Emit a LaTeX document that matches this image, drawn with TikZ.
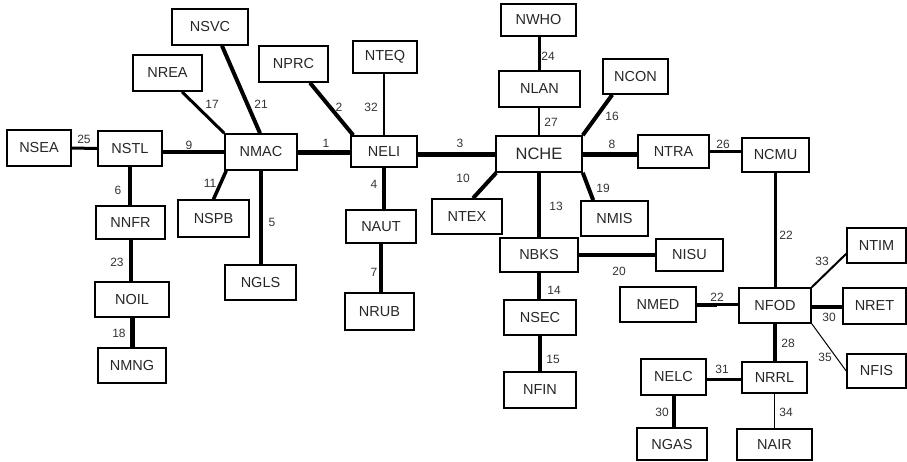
\documentclass[tikz,border=0pt]{standalone}
\usepackage{fontspec}
\setmainfont{Liberation Sans}
\tikzset{
  box/.style={draw, line width=1.6pt, inner sep=0pt, text=black!85, font=\fontsize{14.5}{16}\selectfont},
  lbl/.style={inner sep=0pt, text=black!80, font=\fontsize{12}{14}\selectfont},
  eA/.style={line width=1pt},
  eB/.style={line width=1.5pt},
  eC/.style={line width=2pt},
  eD/.style={line width=3pt},
  eE/.style={line width=3.5pt},
  eF/.style={line width=4pt},
  eG/.style={line width=4.5pt},
  eH/.style={line width=5pt}
}
\newcommand\bx[7][]{\node[box,minimum width={#5-#3},minimum height={#6-#4},#1] (#2) at ({(#3+#5)/2},{(#4+#6)/2}) {#7};}
\begin{document}
\begin{tikzpicture}[x=1pt,y=-1pt]
\useasboundingbox (0,0) rectangle (907,461);
% boxes
\bx{NSVC}{172}{9}{248}{45}{NSVC}
\bx{NREA}{133}{55}{202}{91}{NREA}
\bx{NSEA}{7}{130}{71}{166}{NSEA}
\bx{NSTL}{98}{131}{162}{166}{NSTL}
\bx{NMAC}{225}{134}{297}{170}{NMAC}
\bx{NNFR}{96}{206}{165}{239}{NNFR}
\bx{NSPB}{178}{200}{249}{237}{NSPB}
\bx{NPRC}{259}{46}{328}{82}{NPRC}
\bx{NOIL}{95}{282}{169}{317}{NOIL}
\bx{NMNG}{98}{348}{166}{383}{NMNG}
\bx{NGLS}{225}{265}{296}{300}{NGLS}
\bx{NWHO}{501}{4}{576}{36}{NWHO}
\bx{NTEQ}{353}{41}{417}{73}{NTEQ}
\bx{NLAN}{499}{71}{580}{107}{NLAN}
\bx{NCON}{603}{59}{668}{94}{NCON}
\bx{NELI}{351}{136}{417}{167}{NELI}
\bx[font=\fontsize{16.5}{18}\selectfont]{NCHE}{496}{136}{582}{172}{NCHE}
\bx{NTEX}{432}{199}{502}{234}{NTEX}
\bx{NAUT}{346}{210}{416}{243}{NAUT}
\bx{NMIS}{581}{201}{648}{236}{NMIS}
\bx{NTRA}{638}{135}{709}{168}{NTRA}
\bx{NCMU}{742}{138}{809}{172}{NCMU}
\bx{NBKS}{500}{238}{578}{272}{NBKS}
\bx{NSEC}{504}{300}{576}{335}{NSEC}
\bx{NFIN}{504}{372}{576}{408}{NFIN}
\bx{NRUB}{345}{293}{414}{330}{NRUB}
\bx{NISU}{656}{239}{723}{271}{NISU}
\bx{NMED}{620}{287}{696}{322}{NMED}
\bx{NFOD}{739}{288}{811}{323}{NFOD}
\bx{NTIM}{847}{228}{906}{263}{NTIM}
\bx{NRET}{843}{288}{906}{324}{NRET}
\bx{NFIS}{847}{354}{906}{388}{NFIS}
\bx{NELC}{641}{359}{706}{395}{NELC}
\bx{NRRL}{742}{362}{807}{393}{NRRL}
\bx{NGAS}{637}{428}{707}{460}{NGAS}
\bx{NAIR}{737}{429}{812}{460}{NAIR}
% connectors
\draw[eF] ([xshift=12pt]NSVC.south) -- ([xshift=-1pt]NMAC.north);
\draw[eD] ([xshift=14.5pt]NREA.south) -- (NMAC.north west);
\draw[eD] (NSEA.east) -- (NSTL.west);
\draw[eG] (NSTL.east |- NMAC.west) -- (NMAC.west);
\draw[eG] (NSTL.south) -- (NSTL.south |- NNFR.north);
\draw[eE] ([xshift=2pt]NMAC.south west) -- (NSPB.north);
\draw[eG] (NMAC.south) -- (NMAC.south |- NGLS.north);
\draw[eF] (NNFR.south) -- (NNFR.south |- NOIL.north);
\draw[eH] (NOIL.south) -- (NOIL.south |- NMNG.north);
\draw[eH] (NMAC.east) -- (NMAC.east -| NELI.west);
\draw[eF] ([xshift=16.5pt]NPRC.south) -- ([xshift=3pt]NELI.north west);
\draw[eB] (NELI.north) -- (NELI.north |- NTEQ.south);
\draw[eH] (NELI.east |- NCHE.west) -- (NCHE.west);
\draw[eG] (NELI.south) -- (NELI.south |- NAUT.north);
\draw[eG] (NAUT.south) -- (NAUT.south |- NRUB.north);
\draw[eD] (NLAN.north) -- (NLAN.north |- NWHO.south);
\draw[eC] (NCHE.north) -- (NCHE.north |- NLAN.south);
\draw[eF] (NCHE.north east) -- ([xshift=10pt]NCON.south west);
\draw[eH] (NCHE.east) -- (NCHE.east -| NTRA.west);
\draw[eF] ([xshift=1pt]NCHE.south west) -- ([xshift=6pt]NTEX.north);
\draw[eF] (NCHE.south) -- (NCHE.south |- NBKS.north);
\draw[eF] (NCHE.south east) -- ([xshift=13pt]NMIS.north west);
\draw[eD] (NTRA.east) -- (NTRA.east -| NCMU.west);
\draw[eD] (NCMU.south) -- (NCMU.south |- NFOD.north);
\draw[eF] (NBKS.south) -- (NBKS.south |- NSEC.north);
\draw[eF] (NSEC.south) -- (NSEC.south |- NFIN.north);
\draw[eF] (NBKS.east) -- (NBKS.east -| NISU.west);
\coordinate (medA) at (717,305.3);
\coordinate (medB) at (717,304.5);
\draw[eF] (NMED.east |- medA) -- (medA);
\draw[line width=2.5pt] (medB) -- (medB -| NFOD.west);
\draw[eC] (NFOD.north east) -- ([yshift=10pt]NTIM.south west);
\draw[eF] ([yshift=-1.5pt]NFOD.east) -- ([yshift=-1.5pt]NFOD.east -| NRET.west);
\draw[eA] (NFOD.south east) -- (NFIS.west);
\draw[eE] (NFOD.south) -- (NFOD.south |- NRRL.north);
\draw[eD] ([yshift=-2pt]NELC.east) -- ([yshift=-2pt]NELC.east -| NRRL.west);
\draw[eF] (NELC.south) -- (NELC.south |- NGAS.north);
\draw[eB] (NRRL.south) -- (NRRL.south |- NAIR.north);
% labels
\node[lbl] (l21) at (261,104) {21};
\node[lbl] (l17) at (212,104) {17};
\node[lbl] (l25) at (84,139) {25};
\node[lbl] (l9) at (189,145) {9};
\node[lbl] (l6) at (118,190) {6};
\node[lbl] (l11) at (210,183) {11};
\node[lbl] (l5) at (272,222) {5};
\node[lbl] (l23) at (117,262) {23};
\node[lbl] (l18) at (119,333) {18};
\node[lbl] (l1) at (326,143) {1};
\node[lbl] (l2) at (339,107) {2};
\node[lbl] (l32) at (371,107) {32};
\node[lbl] (l3) at (460,143) {3};
\node[lbl] (l4) at (374,184) {4};
\node[lbl] (l24) at (548,56) {24};
\node[lbl] (l27) at (551,122) {27};
\node[lbl] (l16) at (612,116) {16};
\node[lbl] (l8) at (612,144) {8};
\node[lbl] (l10) at (463,178) {10};
\node[lbl] (l13) at (556,206) {13};
\node[lbl] (l19) at (603,188) {19};
\node[lbl] (l26) at (723,144) {26};
\node[lbl] (l22a) at (786,235) {22};
\node[lbl] (l7) at (374,272) {7};
\node[lbl] (l14) at (554,290) {14};
\node[lbl] (l15) at (553,359) {15};
\node[lbl] (l20) at (619,271) {20};
\node[lbl] (l22b) at (717,297) {22};
\node[lbl] (l33) at (822,261) {33};
\node[lbl] (l30a) at (829,317) {30};
\node[lbl] (l35) at (825,357) {35};
\node[lbl] (l28) at (788,343) {28};
\node[lbl] (l31) at (722,369) {31};
\node[lbl] (l30b) at (662,412) {30};
\node[lbl] (l34) at (786,412) {34};
\end{tikzpicture}
\end{document}
